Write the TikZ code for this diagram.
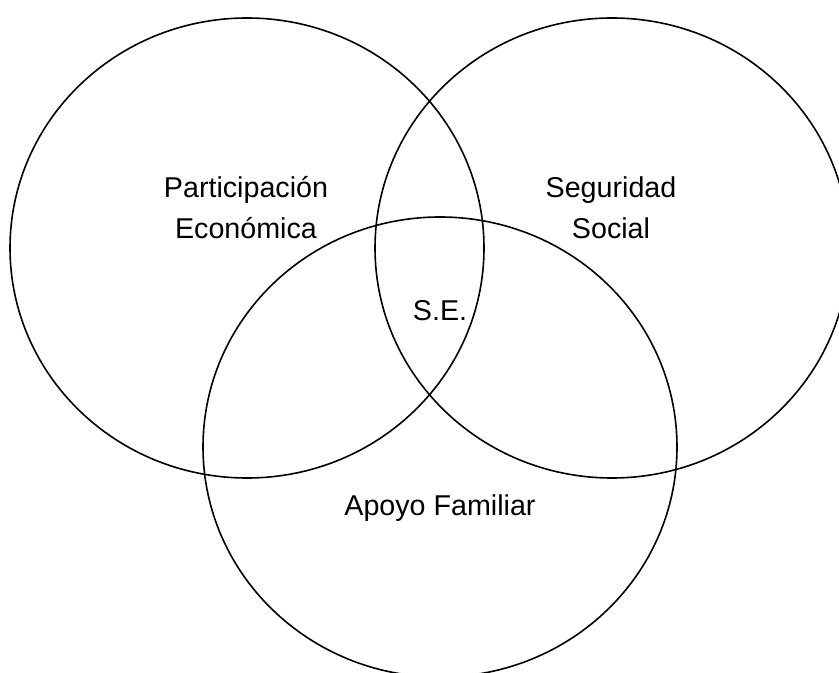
\documentclass[tikz,border=0pt]{standalone}
\usepackage{fontspec}
\setmainfont{Liberation Sans}
\usetikzlibrary{shapes,positioning}

\begin{document}
\begin{tikzpicture}[
        x=0.75pt, y=-0.75pt,
        every node/.style={align=center, inner sep=0pt},
        setring/.style={draw, ellipse, line width=1.2pt, minimum width=355.5pt, minimum height=345pt},
        settext/.style={font=\fontsize{21.5}{30.75}\selectfont}
    ]

    \useasboundingbox (0,0) rectangle (839,673);

    % Sets
    \node (eco)[setring] at (247,248) {};
    \node (seg)[setring] at (612,248) {};
    \node (fam)[setring] at (440,447) {};

    % Labels
    \node (ecotext)[settext] at (246,208) {Participación \\ Económica};
    \node (segtext)[settext] at (611,208) {Seguridad \\ Social};
    \node (se)[settext] at (440,311) {S.E.};
    \node (famtext)[settext] at (440,508) {Apoyo Familiar};

\end{tikzpicture}
\end{document}
